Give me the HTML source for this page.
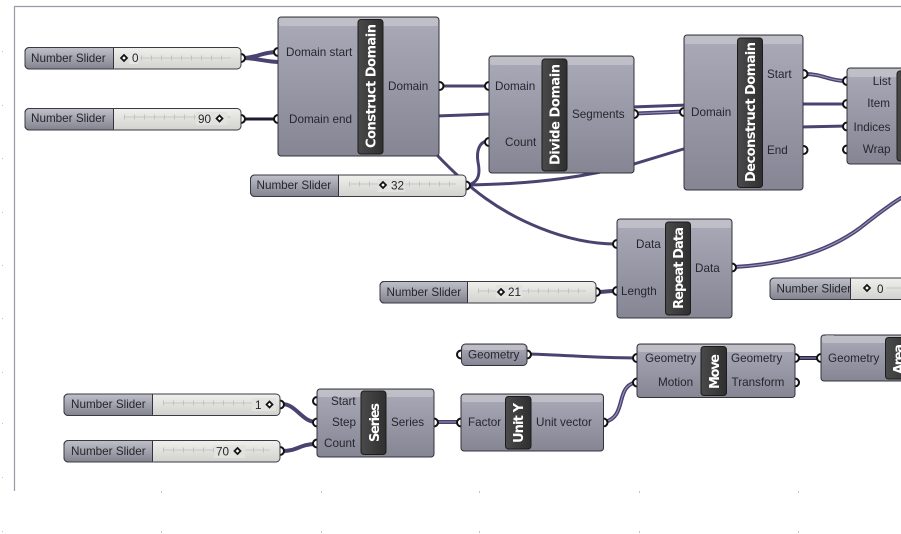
<!DOCTYPE html>
<html><head><meta charset="utf-8"><style>
html,body{margin:0;padding:0;background:#fff;width:901px;height:534px;overflow:hidden}
svg{display:block}
text{font-family:"Liberation Sans",sans-serif;font-size:11.7px;fill:#26262e}
.t{font-size:11.7px}
.v{font-family:"DejaVu Sans",sans-serif;font-weight:bold;font-size:13px;fill:#fff}
.c{fill:url(#body);stroke:#33333c;stroke-width:1}
.b{fill:#c4c4cc;opacity:.8}
.bar{fill:url(#bar);stroke:#1c1c1c;stroke-width:1}
.sl{fill:url(#sl);stroke:#33333f}
.sr{fill:url(#sr)}
.so{fill:none;stroke:#3a3a44;stroke-width:1}
.w{fill:none;stroke:#4a4370;stroke-width:3;stroke-linecap:round}
.d{fill:none;stroke:#4a4370;stroke-width:4;stroke-linecap:round}
.i{fill:none;stroke:#9a92bd;stroke-width:1.1;stroke-linecap:round}
.p{fill:#fff;stroke:#111;stroke-width:2}
.m{fill:#fff;stroke:#111;stroke-width:1.7}
.tr{stroke:#c6c6c2;stroke-width:1;fill:none}
.tk{stroke:#c2c2be;stroke-width:5;stroke-dasharray:1 9;fill:none}
.g{fill:#c4c4c4}
</style></head><body>
<svg width="901" height="534" viewBox="0 0 901 534" xmlns="http://www.w3.org/2000/svg">
<defs>
<linearGradient id="body" x1="0" y1="0" x2="0" y2="1"><stop offset="0" stop-color="#abaab8"/><stop offset="1" stop-color="#858594"/></linearGradient>
<linearGradient id="bar" x1="0" y1="0" x2="1" y2="0"><stop offset="0" stop-color="#4a4a4a"/><stop offset="1" stop-color="#2f2f2f"/></linearGradient>
<linearGradient id="sl" x1="0" y1="0" x2="0" y2="1"><stop offset="0" stop-color="#c0c0ca"/><stop offset="1" stop-color="#83838f"/></linearGradient>
<linearGradient id="sr" x1="0" y1="0" x2="0" y2="1"><stop offset="0" stop-color="#efefec"/><stop offset="1" stop-color="#d2d2ce"/></linearGradient>
</defs>

<!-- frame -->
<path d="M14.500 491V6.500H901" fill="none" stroke="#9a9aa6" stroke-width="1.200"/>
<g class="g">
<rect x="2" y="51" width="1" height="1"/><rect x="2" y="105" width="1" height="1"/><rect x="2" y="158" width="1" height="1"/><rect x="2" y="212" width="1" height="1"/><rect x="2" y="265" width="1" height="1"/><rect x="2" y="318" width="1" height="1"/><rect x="2" y="372" width="1" height="1"/><rect x="2" y="423" width="1" height="1"/><rect x="2" y="477" width="1" height="1"/><rect x="2" y="531" width="1" height="1"/>
<rect x="161" y="491" width="1" height="2"/><rect x="321" y="491" width="1" height="2"/><rect x="479" y="491" width="1" height="2"/><rect x="639" y="491" width="1" height="2"/><rect x="798" y="491" width="1" height="2"/>
<rect x="161" y="531" width="1" height="2"/><rect x="321" y="531" width="1" height="2"/><rect x="479" y="531" width="1" height="2"/><rect x="639" y="531" width="1" height="2"/><rect x="798" y="531" width="1" height="2"/>
</g>

<!-- wires -->
<path class="d" d="M243 58C256 58 262 52 278 52"/><path class="d" d="M243 58C256 58 266 62 280 62"/>
<path class="w" d="M243 119L278 119" style="stroke:#1f1b33"/>
<path class="w" d="M441 86L489 86"/>
<path class="w" d="M436 116L492 114"/>
<path class="w" d="M632 107L688 105"/>
<path class="d" d="M636 113.500L684 111.500"/><path class="i" d="M636 113.500L684 111.500"/>
<path class="d" d="M805 74C822 74 830 81 847 81"/><path class="i" d="M805 74C822 74 830 81 847 81"/>
<path class="w" d="M800 104L847 104"/>
<path class="w" d="M800 127L847 126"/>
<path class="w" d="M468 185C540 184 590 176 634 164L690 147"/>
<path class="w" d="M468 185C480 182 480 172 478 162C476 150 480 142 487 141"/>
<path class="w" d="M436 154C470 190 500 212 540 228C570 240 595 244 616 244"/>
<path class="d" d="M734 267C790 264 830 250 860 228C875 216 888 206 901 198"/><path class="i" d="M734 267C790 264 830 250 860 228C875 216 888 206 901 198"/>
<path class="d" d="M598 292C606 292 606 291 615 291"/>
<path class="w" d="M528 354C570 355 590 358 637 358"/>
<path class="d" d="M797 358L821 358" style="stroke:#2a2545"/><path class="i" d="M797 358L821 358"/>
<path class="d" d="M605 422C628 416 614 386 637 382"/><path class="i" d="M605 422C628 416 614 386 637 382"/>
<path class="d" d="M436 422L461 422"/><path class="i" d="M436 422L461 422"/>
<path class="d" d="M282 404C296 404 302 422 316 422"/>
<path class="d" d="M282 451C298 451 300 444 316 444"/>

<!-- ports -->
<g>
<circle class="p" cx="278" cy="52" r="4"/><circle class="p" cx="278" cy="119" r="4"/><circle class="p" cx="439.500" cy="86" r="4"/>
<circle class="p" cx="489" cy="86" r="4"/><circle class="p" cx="489" cy="142" r="4"/><circle class="p" cx="634" cy="114" r="4"/>
<circle class="p" cx="684" cy="112" r="4"/><circle class="p" cx="803.500" cy="74" r="4"/><circle class="p" cx="803.500" cy="150" r="4"/>
<circle class="p" cx="847" cy="81" r="4"/><circle class="p" cx="847" cy="104" r="4"/><circle class="p" cx="847" cy="126.500" r="4"/><circle class="p" cx="847" cy="149.500" r="4"/>
<circle class="p" cx="617" cy="244" r="4"/><circle class="p" cx="617" cy="291" r="4"/><circle class="p" cx="732" cy="267.500" r="4"/>
<circle class="p" cx="637" cy="358" r="4"/><circle class="p" cx="637" cy="382.500" r="4"/><circle class="p" cx="795" cy="358" r="4"/><circle class="p" cx="795" cy="382.500" r="4"/>
<circle class="p" cx="821" cy="358" r="4"/>
<circle class="p" cx="317" cy="401" r="4"/><circle class="p" cx="317" cy="422.500" r="4"/><circle class="p" cx="317" cy="443.500" r="4"/><circle class="p" cx="434" cy="422.500" r="4"/>
<circle class="p" cx="461" cy="422.500" r="4"/><circle class="p" cx="603.500" cy="422.500" r="4"/>
<circle class="p" cx="461" cy="354.500" r="4"/><circle class="p" cx="527" cy="354.500" r="4"/>
<circle class="p" cx="241" cy="58" r="4"/><circle class="p" cx="241" cy="119" r="4"/><circle class="p" cx="466" cy="185.500" r="4"/><circle class="p" cx="596" cy="292" r="4"/><circle class="p" cx="280" cy="404.500" r="4"/><circle class="p" cx="280" cy="451" r="4"/>
</g>

<!-- Construct Domain -->
<rect class="c" x="278" y="17" width="161" height="139" rx="3"/><rect class="b" x="279" y="18" width="159" height="8" rx="2"/>
<rect class="bar" x="358" y="19.500" width="25" height="134.500" rx="3"/>
<text class="v" transform="translate(375.500 148) rotate(-90)" textLength="124" lengthAdjust="spacing">Construct Domain</text>
<text class="t" x="286" y="56">Domain start</text><text class="t" x="289" y="123">Domain end</text><text class="t" x="388" y="90">Domain</text>

<!-- Divide Domain -->
<rect class="c" x="489" y="56" width="145" height="117" rx="3"/><rect class="b" x="490" y="57" width="143" height="8" rx="2"/>
<rect class="bar" x="542" y="59" width="25" height="112" rx="3"/>
<text class="v" transform="translate(559.500 165) rotate(-90)" textLength="101" lengthAdjust="spacing">Divide Domain</text>
<text class="t" x="495" y="90">Domain</text><text class="t" x="505" y="146">Count</text><text class="t" x="572" y="118">Segments</text>

<!-- Deconstruct Domain -->
<rect class="c" x="684" y="35" width="119" height="155" rx="3"/><rect class="b" x="685" y="36" width="117" height="8" rx="2"/>
<rect class="bar" x="737.500" y="38" width="25" height="149.500" rx="3"/>
<text class="v" transform="translate(755 182) rotate(-90)" textLength="140" lengthAdjust="spacing">Deconstruct Domain</text>
<text class="t" x="691" y="116">Domain</text><text class="t" x="767" y="78">Start</text><text class="t" x="767" y="154">End</text>

<!-- List -->
<rect class="c" x="847" y="68" width="70" height="96" rx="3"/><rect class="b" x="848" y="69" width="68" height="8" rx="2"/>
<rect class="bar" x="897" y="71" width="20" height="90" rx="3"/>
<text class="t" x="891" y="85" text-anchor="end">List</text><text class="t" x="890" y="107" text-anchor="end">Item</text><text class="t" x="890.500" y="131" text-anchor="end">Indices</text><text class="t" x="890.500" y="153" text-anchor="end">Wrap</text>

<!-- Repeat Data -->
<rect class="c" x="617" y="219" width="115" height="99" rx="3"/><rect class="b" x="618" y="220" width="113" height="8" rx="2"/>
<rect class="bar" x="665.500" y="222" width="25" height="93" rx="3"/>
<text class="v" transform="translate(683 309) rotate(-90)" textLength="82" lengthAdjust="spacing">Repeat Data</text>
<text class="t" x="636" y="248">Data</text><text class="t" x="621" y="295">Length</text><text class="t" x="695" y="272">Data</text>

<!-- Move -->
<rect class="c" x="637" y="344" width="158" height="53.500" rx="3"/><rect class="b" x="638" y="345" width="156" height="7" rx="2"/>
<rect class="bar" x="701" y="346.500" width="25.500" height="49" rx="3"/>
<text class="v" transform="translate(719 389) rotate(-90)" textLength="35" lengthAdjust="spacing">Move</text>
<text class="t" x="645" y="362">Geometry</text><text class="t" x="658" y="386">Motion</text><text class="t" x="731" y="362">Geometry</text><text class="t" x="731.500" y="386">Transform</text>

<!-- Area -->
<rect class="c" x="821" y="335" width="95" height="46" rx="3"/><rect class="b" x="822" y="336" width="93" height="7" rx="2"/>
<rect x="826" y="334" width="8" height="1.500" fill="#8a8a96"/>
<rect class="bar" x="885.500" y="337.500" width="30" height="41.500" rx="3"/>
<text class="v" transform="translate(903 374) rotate(-90)" textLength="30" lengthAdjust="spacing">Area</text>
<text class="t" x="828" y="362">Geometry</text>

<!-- Series -->
<rect class="c" x="317" y="389" width="117" height="68" rx="3"/><rect class="b" x="318" y="390" width="115" height="7" rx="2"/>
<rect class="bar" x="361" y="391" width="25" height="63.500" rx="3"/>
<text class="v" transform="translate(379 442) rotate(-90)" textLength="39" lengthAdjust="spacing">Series</text>
<text class="t" x="331" y="405">Start</text><text class="t" x="332" y="426">Step</text><text class="t" x="324" y="447">Count</text><text class="t" x="391" y="426">Series</text>

<!-- Unit Y -->
<rect class="c" x="461" y="394" width="142.500" height="57" rx="3"/><rect class="b" x="462" y="395" width="140.500" height="7" rx="2"/>
<rect class="bar" x="505.500" y="396.500" width="25.500" height="52.500" rx="3"/>
<text class="v" transform="translate(523 443) rotate(-90)" textLength="40" lengthAdjust="spacing">Unit Y</text>
<text class="t" x="468" y="426">Factor</text><text class="t" x="536" y="426">Unit vector</text>

<!-- Geometry -->
<rect class="c" x="461.500" y="344" width="65.500" height="21.500" rx="4"/><rect class="b" x="463" y="345" width="62" height="5" rx="2"/>
<text class="t" x="468" y="358.500">Geometry</text>

<!-- Slider 1 -->
<g>
<rect class="sr" x="113" y="47.500" width="128" height="21.500" rx="4"/><path class="sl" d="M113.500 47.500H29a4 4 0 0 0-4 4V65a4 4 0 0 0 4 4H113.500Z"/><rect class="so" x="25" y="47.500" width="216" height="21.500" rx="4"/>
<path class="tr" d="M140 58H231"/><path class="tk" d="M141 58H231"/>
<text class="t" x="31" y="62">Number Slider</text><rect x="129" y="52" width="9" height="12" fill="#e6e6e3"/><text x="132" y="62">0</text>
<path class="m" d="M124 55L127 58L124 61L121 58Z"/>
</g>
<!-- Slider 2 -->
<g>
<rect class="sr" x="113" y="108.500" width="128" height="21.500" rx="4"/><path class="sl" d="M113.500 108.500H29a4 4 0 0 0-4 4V126a4 4 0 0 0 4 4H113.500Z"/><rect class="so" x="25" y="108.500" width="216" height="21.500" rx="4"/>
<path class="tr" d="M124 117H231"/><path class="tk" d="M124 117H231"/>
<rect x="196" y="112" width="31" height="13" fill="#e2e2df"/><text class="t" x="31" y="122">Number Slider</text><text x="198" y="123">90</text>
<path class="m" d="M219.500 115.500L222.500 118.500L219.500 121.500L216.500 118.500Z"/>
</g>
<!-- Slider 3 -->
<g>
<rect class="sr" x="338" y="175" width="128" height="21.500" rx="4"/><path class="sl" d="M338.500 175H254.500a4 4 0 0 0-4 4V192.500a4 4 0 0 0 4 4H338.500Z"/><rect class="so" x="250.500" y="175" width="215.500" height="21.500" rx="4"/>
<path class="tr" d="M349 184H456"/><path class="tk" d="M349 184H456"/>
<rect x="378" y="179" width="27" height="13" fill="#e2e2df"/><text class="t" x="256.500" y="189">Number Slider</text><text x="391" y="189.500">32</text>
<path class="m" d="M383 182L386 185L383 188L380 185Z"/>
</g>
<!-- Slider 4 -->
<g>
<rect class="sr" x="467" y="281.500" width="129" height="21.500" rx="4"/><path class="sl" d="M467.500 281.500H384a4 4 0 0 0-4 4V299a4 4 0 0 0 4 4H467.500Z"/><rect class="so" x="380" y="281.500" width="216" height="21.500" rx="4"/>
<path class="tr" d="M478 291H586"/><path class="tk" d="M478 291H586"/>
<rect x="496" y="285" width="26" height="13" fill="#e2e2df"/><text class="t" x="386.500" y="296">Number Slider</text><text x="508" y="296">21</text>
<path class="m" d="M501 289L504 292L501 295L498 292Z"/>
</g>
<!-- Slider 5 -->
<g>
<rect class="sr" x="850" y="278" width="60" height="21.500" rx="4"/><path class="sl" d="M850.500 278H774a4 4 0 0 0-4 4V295.500a4 4 0 0 0 4 4H850.500Z"/><path class="so" d="M901 278H774a4 4 0 0 0-4 4V295.500a4 4 0 0 0 4 4H901"/>
<path class="tr" d="M886 288H901"/>
<text class="t" x="776.500" y="292.500">Number Slider</text><text x="877" y="293">0</text>
<path class="m" d="M867 285L870 288L867 291L864 288Z"/>
</g>
<!-- Slider 6 -->
<g>
<rect class="sr" x="152" y="394" width="128" height="21.500" rx="4"/><path class="sl" d="M152.500 394H68a4 4 0 0 0-4 4V411.500a4 4 0 0 0 4 4H152.500Z"/><rect class="so" x="64" y="394" width="216" height="21.500" rx="4"/>
<path class="tr" d="M163 403H270"/><path class="tk" d="M163 403H270"/>
<rect x="252" y="398" width="24" height="13" fill="#e2e2df"/><text class="t" x="71" y="408">Number Slider</text><text x="255" y="409">1</text>
<path class="m" d="M269.500 401.500L272.500 404.500L269.500 407.500L266.500 404.500Z"/>
</g>
<!-- Slider 7 -->
<g>
<rect class="sr" x="152" y="440.500" width="128" height="21.500" rx="4"/><path class="sl" d="M152.500 440.500H68a4 4 0 0 0-4 4V458a4 4 0 0 0 4 4H152.500Z"/><rect class="so" x="64" y="440.500" width="216" height="21.500" rx="4"/>
<path class="tr" d="M163 450H270"/><path class="tk" d="M163 450H270"/>
<rect x="214" y="445" width="31" height="13" fill="#e2e2df"/><text class="t" x="71" y="455">Number Slider</text><text x="216" y="455.500">70</text>
<path class="m" d="M237.500 448L240.500 451L237.500 454L234.500 451Z"/>
</g>
</svg>
</body></html>
